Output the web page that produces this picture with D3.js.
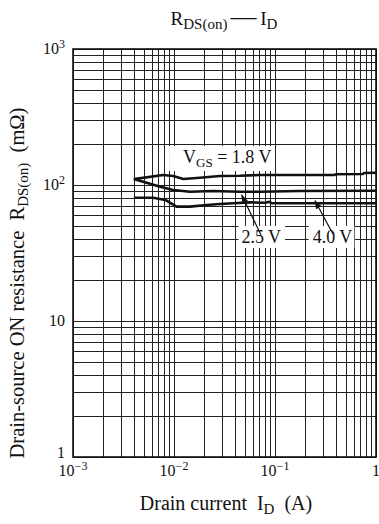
<!DOCTYPE html>
<html>
<head>
<meta charset="utf-8">
<script src="https://cdn.jsdelivr.net/npm/d3@7"></script>
<style>
  body { margin: 0; background: #fff; }
  text { font-family: "Liberation Serif", "Times New Roman", serif; fill: #111; white-space: pre; }
</style>
</head>
<body>
<div class="CHART"></div>
<script>
// data (ID in A, RDS(on) in mOhm)
var xTicks = [1e-3, 1e-2, 1e-1, 1];
var xTickExp = ["\u22123", "\u22122", "\u22121", ""];
var yTicks = [1, 10, 100, 1000];
var yTickExp = ["", "", "2", "3"];

var vgs18 = [[0.004,110.5],[0.0078,118.5],[0.0098,116.5],[0.0124,110.7],[0.018,113.2],[0.0285,116.5],[0.045,117],[0.07,118.5],
             [0.39,118.5],[0.40,120],[0.74,120.5],[0.76,122.5],[1,123]];
var vgs25 = [[0.004,110.5],[0.0073,97],[0.0098,92],[0.0144,89.3],[0.0243,90.3],[0.045,89.3],[0.071,89.3],[0.177,90.3],[1,90.8]];
var vgs40 = [[0.004,80.6],[0.0062,80.6],[0.0082,77.6],[0.0106,69.3],[0.0144,69.3],[0.0211,71.3],[0.0285,72.5],[0.0387,73.4],
             [0.057,74.5],[0.08,74],[0.088,75.2],[0.092,73.5],[1,73.5]];
var series = [vgs18, vgs25, vgs40];

// labels and arrows, in data units
var labels = [
  {x: 0.0123, y: 145, main: "V", sub: "GS", rest: " = 1.8 V", padL: 14, padR: 2},
  {x: 0.0465, y: 37.5, main: "2.5 V", sub: "", rest: "", padL: 3, padR: 4},
  {x: 0.236, y: 37.5, main: "4.0 V", sub: "", rest: "", padL: 4, padR: 2}
];
var arrows = [
  {from: [0.0727, 42.9], to: [0.0468, 84.4]},
  {from: [0.375, 43.6], to: [0.249, 76.7]}
];

var margin = {top: 49, right: 3, bottom: 67, left: 73},
    width = 379 - margin.left - margin.right,
    height = 524 - margin.top - margin.bottom;

var svg = d3.select(".CHART").append("svg")
    .attr("width", 379)
    .attr("height", 524);

var g = svg.append("g").attr("transform", "translate(" + margin.left + "," + margin.top + ")");

var scaleX = d3.scaleLog().domain([1e-3, 1]).range([0, width]);
var scaleY = d3.scaleLog().domain([1, 1000]).range([height, 0]);

// grid
g.selectAll(".vgrid").data(scaleX.ticks()).enter().append("line")
  .attr("x1", function(d) { return Math.round(scaleX(d)) + 0.5; })
  .attr("x2", function(d) { return Math.round(scaleX(d)) + 0.5; })
  .attr("y1", 0).attr("y2", height)
  .attr("stroke", "#222").attr("stroke-width", 1);
g.selectAll(".hgrid").data(scaleY.ticks()).enter().append("line")
  .attr("y1", function(d) { return Math.round(scaleY(d)) + 0.5; })
  .attr("y2", function(d) { return Math.round(scaleY(d)) + 0.5; })
  .attr("x1", 0).attr("x2", width)
  .attr("stroke", "#222").attr("stroke-width", 1);

g.append("rect").attr("x", 0).attr("y", 0).attr("width", width).attr("height", height)
  .attr("fill", "none").attr("stroke", "#111").attr("stroke-width", 1.6);

// label boxes go over the grid
labels.forEach(function(l) {
  var t = g.append("text")
    .attr("x", scaleX(l.x)).attr("y", scaleY(l.y))
    .style("font-size", "18px");
  t.append("tspan").text(l.main);
  if (l.sub) t.append("tspan").attr("dy", 4).style("font-size", "13px").text(l.sub);
  if (l.rest) t.append("tspan").attr("dy", -4).text(l.rest);
  var bb = t.node().getBBox();
  g.insert("rect", function() { return t.node(); })
    .attr("x", bb.x - l.padL).attr("y", bb.y - 1)
    .attr("width", bb.width + l.padL + l.padR).attr("height", bb.height + 2)
    .attr("fill", "#fff");
});

// curves
var line = d3.line()
  .x(function(d) { return scaleX(d[0]); })
  .y(function(d) { return scaleY(d[1]); });
g.selectAll(".curve").data(series).enter().append("path")
  .attr("d", line)
  .attr("fill", "none").attr("stroke", "#111").attr("stroke-width", 2.6)
  .attr("stroke-linejoin", "round");

// arrows
svg.append("defs").append("marker")
  .attr("id", "head").attr("viewBox", "0 0 10 10")
  .attr("refX", 9).attr("refY", 5)
  .attr("markerWidth", 9).attr("markerHeight", 9)
  .attr("markerUnits", "userSpaceOnUse")
  .attr("orient", "auto")
  .append("path").attr("d", "M0,1.5 L10,5 L0,8.5 Z").attr("fill", "#111");
g.selectAll(".arrow").data(arrows).enter().append("line")
  .attr("x1", function(d) { return scaleX(d.from[0]); })
  .attr("y1", function(d) { return scaleY(d.from[1]); })
  .attr("x2", function(d) { return scaleX(d.to[0]); })
  .attr("y2", function(d) { return scaleY(d.to[1]); })
  .attr("stroke", "#111").attr("stroke-width", 1.2)
  .attr("marker-end", "url(#head)");

// tick labels
xTicks.forEach(function(v, i) {
  var t = g.append("text").attr("x", scaleX(v)).attr("y", height + 19)
    .attr("text-anchor", "middle").style("font-size", "16px");
  if (v === 1) { t.text("1"); return; }
  t.append("tspan").text("10");
  t.append("tspan").attr("dy", -6).style("font-size", "12px").text(xTickExp[i]);
});
yTicks.forEach(function(v, i) {
  var t = g.append("text").attr("x", -8).attr("y", scaleY(v) + (v === 1 ? 1 : 5))
    .attr("text-anchor", "end").style("font-size", "16px");
  if (!yTickExp[i]) { t.text(String(v)); return; }
  t.append("tspan").text("10");
  t.append("tspan").attr("dy", -6).style("font-size", "12px").text(yTickExp[i]);
});

// title
var title = svg.append("text").attr("x", 224).attr("y", 25)
  .attr("text-anchor", "middle").style("font-size", "19px");
title.append("tspan").text("R");
title.append("tspan").attr("dy", 4).style("font-size", "15px").text("DS(on)\u2009");
title.append("tspan").attr("dy", -4).style("font-size", "26px").text("\u2014");
title.append("tspan").text("\u2009I");
title.append("tspan").attr("dy", 4).style("font-size", "15px").text("D");

// axis titles
var xt = svg.append("text").attr("x", 226).attr("y", 510)
  .attr("text-anchor", "middle").style("font-size", "20px");
xt.append("tspan").text("Drain current  I");
xt.append("tspan").attr("dy", 4).style("font-size", "15px").text("D");
xt.append("tspan").attr("dy", -4).text("  (A)");

var yt = svg.append("text").attr("transform", "translate(24,283) rotate(-90)")
  .attr("text-anchor", "middle").style("font-size", "20.5px");
yt.append("tspan").text("Drain-source ON resistance  R");
yt.append("tspan").attr("dy", 4).style("font-size", "15px").text("DS(on)");
yt.append("tspan").attr("dy", -4).text("  (m\u03A9)");
</script>
</body>
</html>
